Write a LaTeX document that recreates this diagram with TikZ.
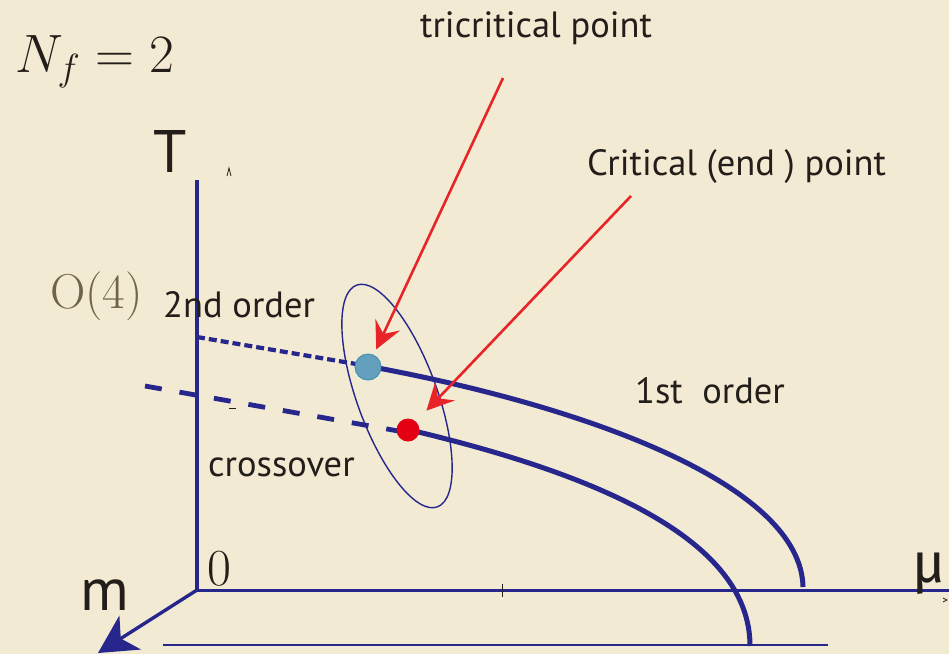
\RequirePackage{fix-cm}
\documentclass[tikz,border=0pt]{standalone}
\usepackage{fontspec}
\newfontfamily\labelfont{PT Sans}
\newfontfamily\mufont{Fira Sans}
\usetikzlibrary{shapes.geometric,arrows.meta}
\definecolor{paper}{RGB}{242,234,210}
\definecolor{axisblue}{RGB}{38,38,140}
\definecolor{arrowred}{RGB}{232,36,40}
\definecolor{ink}{RGB}{35,30,26}
\definecolor{olive}{RGB}{110,100,72}
\definecolor{tcpblue}{RGB}{100,160,190}
\definecolor{cepred}{RGB}{228,0,18}
\tikzset{
  axis/.style     ={draw=axisblue,line width=3.4pt},
  phase/.style    ={draw=axisblue,line width=5pt},
  pointer/.style  ={-{Stealth[length=27pt,width=27pt,inset=10pt]},draw=arrowred,
                    line width=2.6pt},
  lbl/.style      ={anchor=base west,inner sep=0pt,text=ink,
                    font=\labelfont\fontsize{36.5}{44}\selectfont},
  axislbl/.style  ={anchor=base west,inner sep=0pt,text=ink,
                    font=\labelfont\fontsize{60}{66}\selectfont},
  dot/.style      ={circle,inner sep=0pt}
}
\begin{document}
\begin{tikzpicture}[x=1pt,y=-1pt]
  \useasboundingbox (0,0) rectangle (949,654);
  \fill[paper] (0,0) rectangle (949,654);

  % Axes
  \coordinate (origin) at (197,590);
  \coordinate (ttop)   at (197,180);
  \coordinate (muend)  at (949,590);
  \coordinate (mend)   at (98,653);
  \coordinate (baseL)  at (163,645);
  \coordinate (baseR)  at (828,645);
  \draw [axis] (origin) -- (ttop);
  \draw [axis,line width=3pt] (origin) -- (muend);
  \draw [axis,-{Stealth[length=38pt,width=40pt,inset=11pt]}] (origin) -- (mend);
  \draw [draw=axisblue,line width=2pt] (baseL) -- (baseR);

  % Nodes
  \node (nf)    [anchor=base west,inner sep=0pt,text=ink,font=\fontsize{54}{60}\selectfont]
                at (15,72) {$N_f=2$};
  \node (tlbl)  [axislbl] at (153,172) {T};
  \node (mlbl)  [axislbl] at (80,610) {m};
  \node (mulbl) [anchor=base west,inner sep=0pt,text=ink,font=\mufont\fontsize{56}{60}\selectfont]
                at (912,582) {μ};
  \node (zero)  [anchor=base west,inner sep=0pt,text=ink,font=\fontsize{52}{60}\selectfont]
                at (207,585) {0};
  \node (o4)    [anchor=base west,inner sep=0pt,text=olive,font=\fontsize{49}{60}\selectfont]
                at (50,308) {O(4)};
  \node (tcplbl) [lbl] at (420,37)  {tricritical point};
  \node (ceplbl) [lbl] at (587,175) {Critical (end ) point};
  \node (second) [lbl] at (163,317) {2nd order};
  \node (first)  [lbl] at (635,403) {1st\ \ order};
  \node (cross)  [lbl] at (208,476) {crossover};

  \node (window) [ellipse,draw=axisblue,line width=1.4pt,minimum width=80pt,
                  minimum height=236pt,rotate=20,inner sep=0pt] at (397,396) {};

  \coordinate (so4)   at (197,337);
  \coordinate (xover) at (145,386);
  \coordinate (fo1end) at (803,587);
  \coordinate (fo2end) at (750,646);
  \coordinate (tcpfrom) at (503,78);
  \coordinate (cepfrom) at (631,196);

  % Lines
  \draw [axisblue,line width=4.2pt,dash pattern=on 8pt off 4pt] (so4) -- (368,366);
  \draw [axisblue,line width=4.8pt,dash pattern=on 17pt off 18pt] (xover) -- (404,432);
  \draw [phase] (378,368) .. controls (600,410) and (801,488) .. (fo1end);
  \draw [phase] (410,430) .. controls (600,475) and (750,540) .. (fo2end);

  \node (tcp) [dot,fill=tcpblue,draw={rgb,255:red,60;green,150;blue,180},line width=1pt,
               minimum size=26pt] at (368,367) {};
  \node (cep) [dot,fill=cepred,minimum size=23pt] at (408,430) {};

  % Arrows
  \draw [pointer,shorten >=6pt]  (tcpfrom) -- (tcp);
  \draw [pointer,shorten >=15pt] (cepfrom) -- (cep);

  % small marks
  \draw [ink,line width=0.8pt] (502,584) -- (502,597);
  \draw [ink,line width=0.8pt] (227,176) -- (229,168) -- (231,176);
  \draw [ink,line width=1pt]   (229,408) -- (236,408);
  \draw [ink,line width=0.8pt] (943,598) -- (947,600) -- (943,602);
\end{tikzpicture}
\end{document}
